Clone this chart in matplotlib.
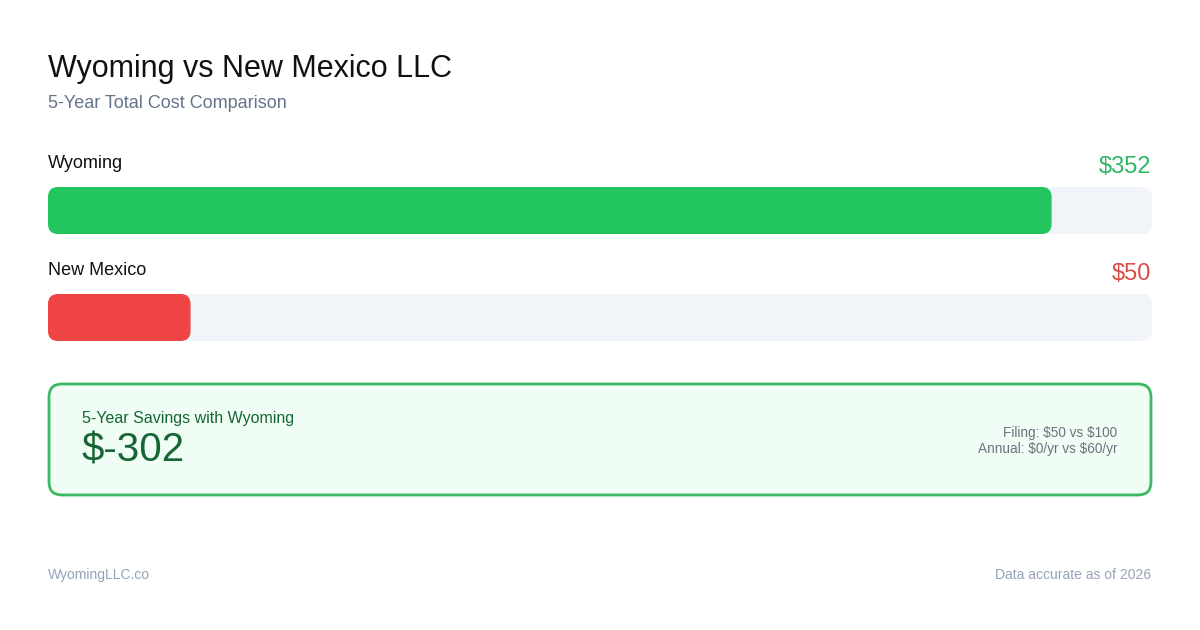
import matplotlib
matplotlib.use("Agg")
import matplotlib.pyplot as plt
from matplotlib.patches import FancyBboxPatch

plt.rcParams["font.family"] = ["Liberation Sans", "DejaVu Sans"]
plt.rcParams["text.parse_math"] = False

# data
states = ["Wyoming", "New Mexico"]
totals = [352, 50]
bar_colors = ["#22c55e", "#ef4444"]
label_colors = ["#2cb765", "#dc4a44"]
savings = totals[1] - totals[0]
details = ["Filing: $50 vs $100", "Annual: $0/yr vs $60/yr"]

W, H = 1200, 630
fig = plt.figure(figsize=(W / 100, H / 100), dpi=100, facecolor="white")

# page axes in pixel units
ax = fig.add_axes([0, 0, 1, 1])
ax.set_xlim(0, W)
ax.set_ylim(H, 0)
ax.axis("off")

# bar axes: x in dollars, y in pixels
left, right = 48, 1152
bx = fig.add_axes([left / W, 0, (right - left) / W, 1])
scale_max = max(totals) * 1.1
bx.set_xlim(0, scale_max)
bx.set_ylim(H, 0)
bx.axis("off")
bx.patch.set_alpha(0)

px_per_unit = (right - left) / scale_max
radius = 10


def round_bar(x0, y0, w, h, color):
    r = radius / px_per_unit
    p = FancyBboxPatch((x0, y0), w, h,
                       boxstyle="round,pad=0,rounding_size=%f" % r,
                       mutation_aspect=px_per_unit,
                       facecolor=color, edgecolor="none")
    bx.add_patch(p)


ax.text(48, 77, "Wyoming vs New Mexico LLC", fontsize=22, color="#111111", va="baseline")
ax.text(48, 108, "5-Year Total Cost Comparison", fontsize=13, color="#64748b", va="baseline")

bar_tops = [187, 294]
bar_h = 47
for name, val, col, lcol, top in zip(states, totals, bar_colors, label_colors, bar_tops):
    ax.text(48, top - 19, name, fontsize=13, color="#111111", va="baseline")
    ax.text(1151, top - 14, "$%d" % val, fontsize=17, color=lcol, va="baseline", ha="right")
    round_bar(0, top, scale_max, bar_h, "#f1f5f9")
    round_bar(0, top, val, bar_h, col)

# savings box
box = FancyBboxPatch((49, 384), 1102, 111,
                     boxstyle="round,pad=0,rounding_size=13",
                     facecolor="#f0fdf4", edgecolor="#3cb862", linewidth=2)
ax.add_patch(box)
ax.text(82, 423, "5-Year Savings with Wyoming", fontsize=11.5, color="#166534", va="baseline")
ax.text(81, 462, "$%d" % savings, fontsize=29, color="#166534", va="baseline")
ax.text(1117, 437, details[0], fontsize=9.8, color="#6b7280", va="baseline", ha="right")
ax.text(1117, 453, details[1], fontsize=9.8, color="#6b7280", va="baseline", ha="right")

ax.text(48, 579, "WyomingLLC.co", fontsize=10, color="#94a3b8", va="baseline")
ax.text(1151, 579, "Data accurate as of 2026", fontsize=10, color="#94a3b8", va="baseline", ha="right")

fig.savefig("out.png", dpi=100, facecolor="white")
